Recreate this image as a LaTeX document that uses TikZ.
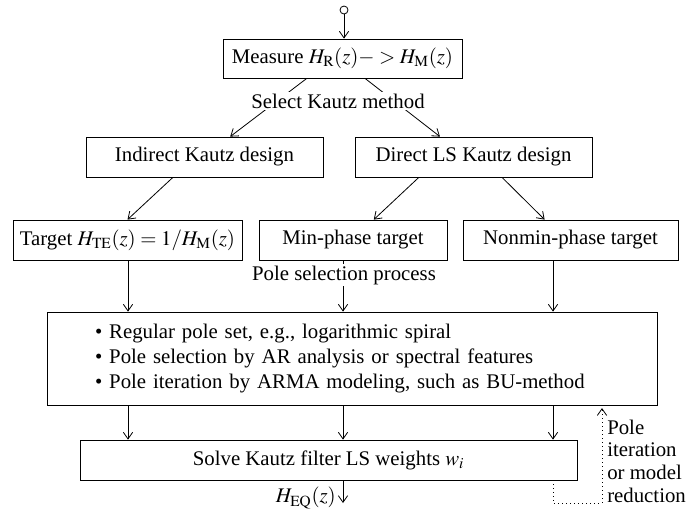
\documentclass[tikz,border=0pt]{standalone}
\usepackage{mathptmx}
\usepackage{fontspec}
\setmainfont{Liberation Serif}
\usetikzlibrary{arrows.meta,calc}

\newcommand{\fsz}{\fontsize{15.6pt}{18.75pt}\selectfont}

\begin{document}
\begin{tikzpicture}[x=0.75pt,y=0.75pt,yscale=-1,xscale=1,
    blk/.style={draw, line width=0.6pt, inner sep=0pt, minimum height=30pt, font=\fsz},
    arr/.style={line width=0.6pt, -{Straight Barb[length=5pt,width=7pt]}},
    lbl/.style={font=\fsz, fill=white, inner sep=1.5pt},
    fbline/.style={line width=0.6pt, dash pattern=on 0.7pt off 2.3pt}]
                \useasboundingbox (0,0) rectangle (691,512);

                %Shape: Circle [id:start]
                \node [circle, draw, line width=0.6pt, minimum size=6pt, inner sep=0pt] (start) at (344,10) {};
                %Shape: Rectangle [id:measure]
                \node [blk, minimum width=179.25pt, minimum height=29.25pt] (measure) at (342.5,58.5) {Measure $H_{\mathrm{R}}(z)- > H_{\mathrm{M}}(z)$};
                %Shape: Rectangle [id:indirect]
                \node [blk, minimum width=177.75pt] (indirect) at (204.5,157) {Indirect Kautz design};
                %Shape: Rectangle [id:direct]
                \node [blk, minimum width=177.75pt] (direct) at (473.5,157) {Direct LS Kautz design};
                %Shape: Rectangle [id:target]
                \node [blk, minimum width=171.75pt] (target) at (127.5,240) {Target $H_{\mathrm{TE}}(z) = 1/H_{\mathrm{M}}(z)$};
                %Shape: Rectangle [id:minph]
                \node [blk, minimum width=141pt] (minph) at (353,240) {Min-phase target};
                %Shape: Rectangle [id:nonmin]
                \node [blk, minimum width=161.25pt] (nonmin) at (570.5,240) {Nonmin-phase target};
                %Shape: Rectangle [id:big]
                \node [blk, minimum width=457.5pt, minimum height=69.75pt, inner xsep=36pt, text width=385.5pt, align=left] (big) at (352,358.5) {\textbullet\ Regular pole set, e.g., logarithmic spiral\\
                \textbullet\ Pole selection by AR analysis or spectral features\\
                \textbullet\ Pole iteration by ARMA modeling, such as BU-method};
                %Shape: Rectangle [id:solve]
                \node [blk, minimum width=372.75pt] (solve) at (328.5,460) {Solve Kautz filter LS weights $w_i$};

                \coordinate (ca) at (128,0);
                \coordinate (cb) at (343,0);
                \coordinate (cc) at (553,0);
                \coordinate (out) at (343,503);
                \coordinate (fb) at (602,503);

                %Straight Lines [id:in]
                \draw [arr] (start) -- (start |- measure.north);
                %Straight Lines [id:split]
                \draw [arr] ($(measure.south west)!0.351!(measure.south east)$) -- ($(indirect.north west)!0.608!(indirect.north east)$);
                \draw [arr] ($(measure.south west)!0.594!(measure.south east)$) -- ($(direct.north west)!0.359!(direct.north east)$);
                %Straight Lines [id:targets]
                \draw [arr] ($(indirect.south west)!0.367!(indirect.south east)$) -- (target.north);
                \draw [arr] ($(direct.south west)!0.27!(direct.south east)$) -- ($(minph.north west)!0.61!(minph.north east)$);
                \draw [arr] ($(direct.south west)!0.62!(direct.south east)$) -- ($(nonmin.north west)!0.38!(nonmin.north east)$);
                %Straight Lines [id:poles]
                \draw [arr] (target.south -| ca) -- (big.north -| ca);
                \draw [arr] (minph.south -| cb) -- (big.north -| cb);
                \draw [arr] (nonmin.south -| cc) -- (big.north -| cc);
                %Straight Lines [id:weights]
                \draw [arr] (big.south -| ca) -- (solve.north -| ca);
                \draw [arr] (big.south -| cb) -- (solve.north -| cb);
                \draw [arr] (big.south -| cc) -- (solve.north -| cc);
                %Straight Lines [id:out]
                \draw [arr] (solve.south -| out) -- (out);
                %Dotted Lines [id:feedback]
                \draw [fbline, arr, shorten >=2pt] (solve.south -| cc) |- (fb) -- (big.south -| fb);

                % Text Node
                \node [lbl] (sel) at (338,101) {Select Kautz method};
                % Text Node
                \node [lbl] (psel) at (344,275) {Pole selection process};
                % Text Node
                \node [font=\fsz, anchor=east, inner sep=0pt] (heq) at (336,498) {$H_{\mathrm{EQ}}(z)$};
                % Text Node
                \node [font=\fontsize{15.6pt}{17pt}\selectfont, anchor=west, align=left, inner sep=0pt] (fbl) at (607,461) {Pole\\iteration\\or model\\reduction};

\end{tikzpicture}
\end{document}
